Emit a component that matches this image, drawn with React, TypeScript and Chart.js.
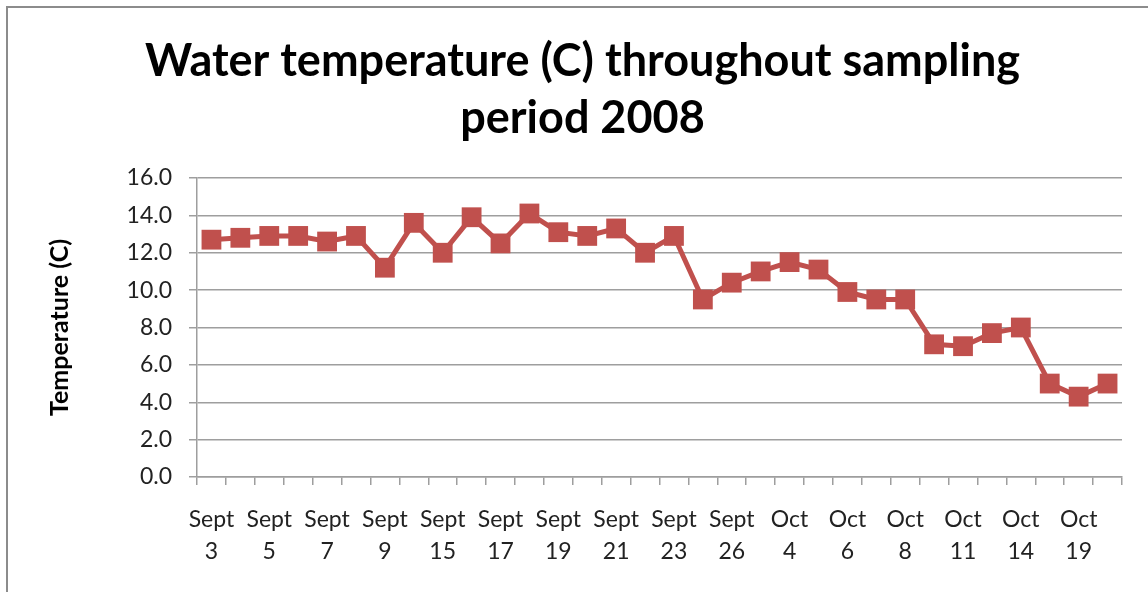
import React, { useEffect, useRef } from "react";
import { Chart, registerables } from "chart.js";

Chart.register(...registerables);

const titleLines = ["Water temperature (C) throughout sampling", "period 2008"];
const yAxisTitle = "Temperature (C)";
const dateLabels = [
  "Sept 3", "", "Sept 5", "", "Sept 7", "", "Sept 9", "", "Sept 15", "", "Sept 17", "",
  "Sept 19", "", "Sept 21", "", "Sept 23", "", "Sept 26", "", "Oct 4", "", "Oct 6", "",
  "Oct 8", "", "Oct 11", "", "Oct 14", "", "Oct 19", "",
];
const temperatures = [
  12.7, 12.8, 12.9, 12.9, 12.6, 12.9, 11.2, 13.6, 12.0, 13.9, 12.5, 14.1, 13.1, 12.9, 13.3, 12.0,
  12.9, 9.5, 10.4, 11.0, 11.5, 11.1, 9.9, 9.5, 9.5, 7.1, 7.0, 7.7, 8.0, 5.0, 4.3, 5.0,
];
const yMin = 0;
const yMax = 16;
const yStep = 2;

const FONT = "Lato, 'Open Sans', sans-serif";
const RED = "#C0504D";
const GRID = "#9e9e9e";

export default function App() {
  const ref = useRef<HTMLCanvasElement | null>(null);
  useEffect(() => {
    if (!ref.current) return;
    const chart = new Chart(ref.current, {
      type: "line",
      data: {
        labels: dateLabels.map((s) => (s ? s.split(" ") : "")),
        datasets: [
          {
            data: temperatures,
            borderColor: RED,
            backgroundColor: RED,
            borderWidth: 5,
            pointStyle: "rect",
            pointRadius: 14,
            pointBorderWidth: 0,
            pointBackgroundColor: RED,
            tension: 0,
            fill: false,
          },
        ],
      },
      options: {
        animation: false,
        responsive: false,
        devicePixelRatio: 1,
        layout: { padding: { left: 35, right: 35, top: 0, bottom: 0 } },
        plugins: {
          legend: { display: false },
          tooltip: { enabled: false },
          title: {
            display: true,
            text: titleLines,
            color: "#000",
            font: { family: FONT, size: 45, weight: "bold", lineHeight: 57 / 45 },
            padding: { top: 25, bottom: 31 },
          },
        },
        scales: {
          x: {
            type: "category",
            offset: true,
            grid: {
              display: true,
              offset: true,
              drawOnChartArea: false,
              drawTicks: true,
              tickLength: 8,
              color: GRID,
              lineWidth: 1.5,
            },
            border: { display: true, color: GRID, width: 1.5 },
            ticks: {
              autoSkip: false,
              maxRotation: 0,
              minRotation: 0,
              color: "#222",
              padding: 19,
              font: { family: FONT, size: 23, lineHeight: 32 / 23 },
            },
            afterFit: (s: any) => {
              s.height = 115;
            },
          },
          y: {
            min: yMin,
            max: yMax,
            grid: {
              color: GRID,
              lineWidth: 1.5,
              drawTicks: true,
              tickLength: 8,
            },
            border: { display: true, color: GRID, width: 1.5 },
            ticks: {
              stepSize: yStep,
              color: "#222",
              padding: 17,
              font: { family: FONT, size: 23 },
              callback: (v: any) => Number(v).toFixed(1),
            },
            title: {
              display: true,
              text: yAxisTitle,
              color: "#000",
              font: { family: FONT, size: 25, weight: "bold", lineHeight: 1.2 },
              padding: { top: 2, bottom: 0 },
            },
            afterFit: (s: any) => {
              s.width = 154;
            },
          },
        },
      },
    });
    return () => chart.destroy();
  }, []);

  return (
    <div
      style={{
        position: "fixed",
        left: 6,
        top: 6,
        width: 1160,
        height: 600,
        borderLeft: "2px solid #8c8c8c",
        borderTop: "2px solid #8c8c8c",
        background: "#fff",
        overflow: "hidden",
      }}
    >
      <canvas ref={ref} width={1149} height={584} style={{ display: "block", width: 1149, height: 584 }} />
    </div>
  );
}
